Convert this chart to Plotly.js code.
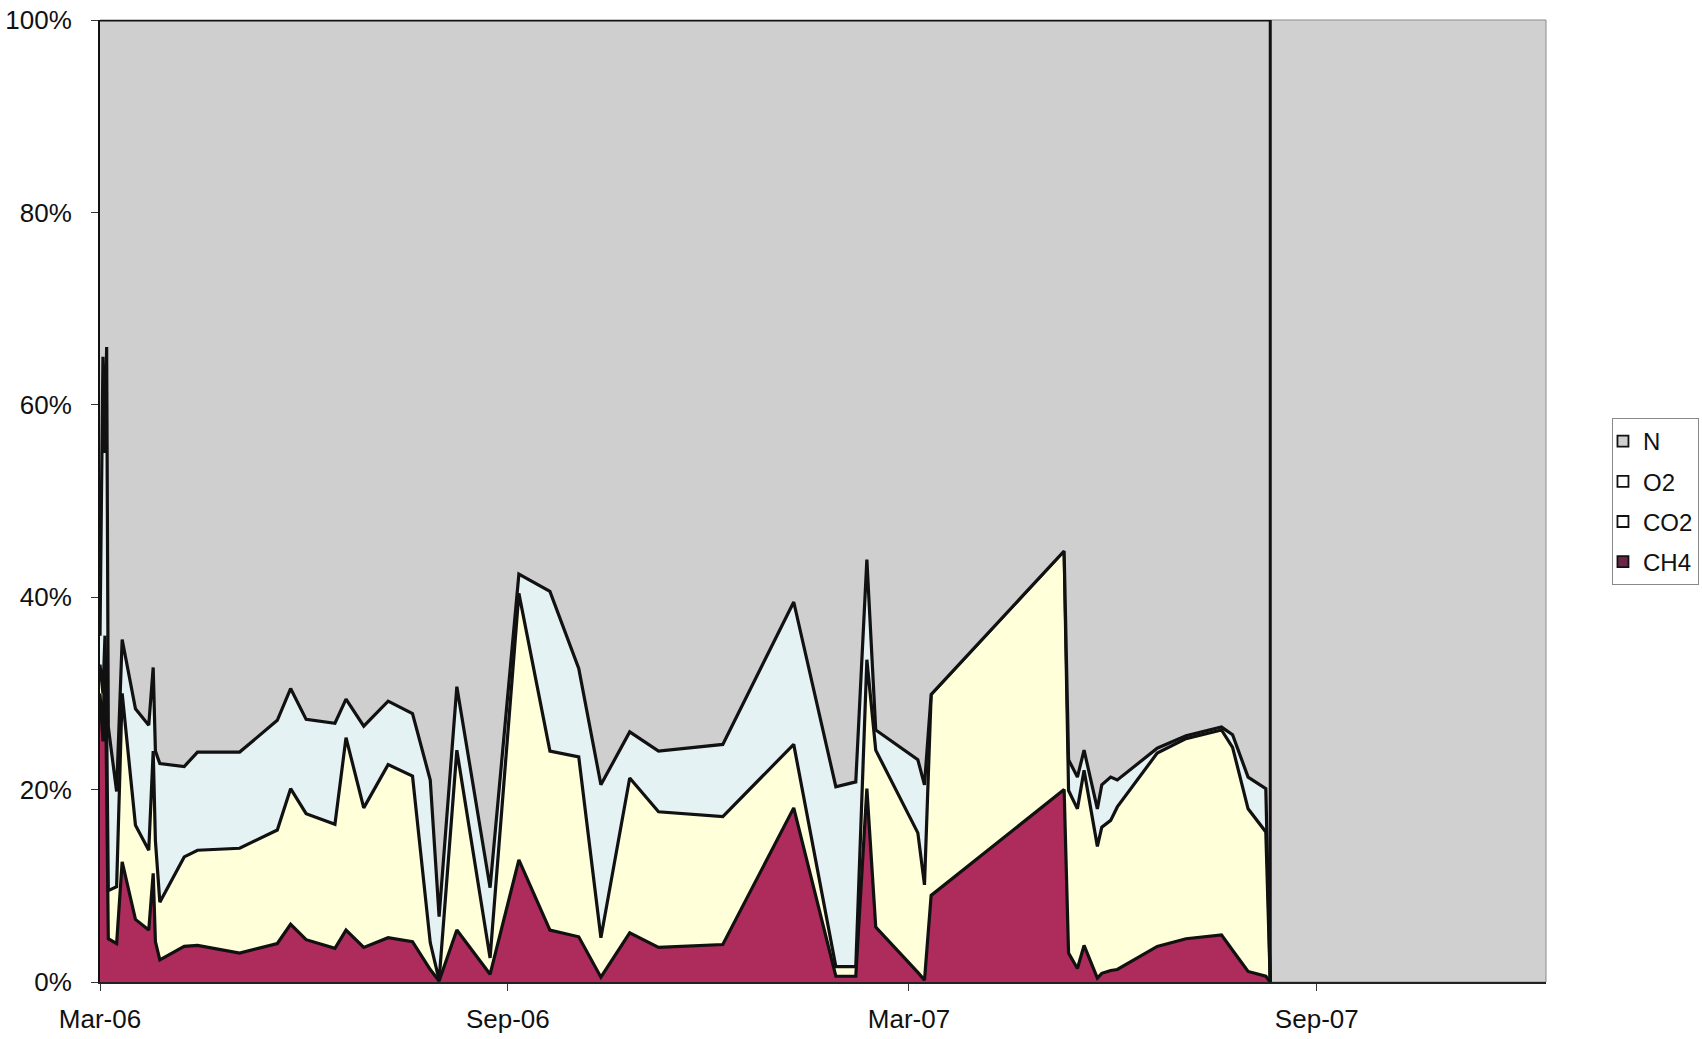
<!DOCTYPE html>
<html>
<head>
<meta charset="utf-8">
<script src="https://cdn.plot.ly/plotly-3.0.1.min.js"></script>
<style>
html,body{margin:0;padding:0;background:#fff;}
#chart{width:1702px;height:1039px;}
</style>
</head>
<body>
<div id="chart"></div>
<script>
// Sampling dates
const dates = ['2006-03-01 00:00','2006-03-02 08:00','2006-03-03 06:00','2006-03-04 00:00','2006-03-04 18:00',
  '2006-03-08 12:00','2006-03-11','2006-03-17','2006-03-23','2006-03-25','2006-03-26','2006-03-28',
  '2006-04-08','2006-04-14','2006-05-03','2006-05-20','2006-05-26','2006-06-02','2006-06-15','2006-06-20',
  '2006-06-28','2006-07-09','2006-07-20','2006-07-28','2006-08-01','2006-08-09','2006-08-24','2006-09-06',
  '2006-09-20','2006-10-03','2006-10-13','2006-10-26','2006-11-08','2006-12-07','2007-01-08','2007-01-27',
  '2007-02-05','2007-02-10','2007-02-14','2007-03-05','2007-03-08','2007-03-11','2007-05-10','2007-05-12',
  '2007-05-16','2007-05-19','2007-05-25','2007-05-27','2007-05-31','2007-06-03','2007-06-21','2007-07-04',
  '2007-07-20','2007-07-25','2007-08-01','2007-08-09','2007-08-11'];

// Gas composition (%)
const ch4 = [30,25,36,20,4.5,4.0,12.5,6.5,5.4,11.3,4.2,2.3,3.7,3.8,3.0,4.0,6.0,4.4,3.5,5.4,3.6,4.6,4.2,1.3,0.1,
  5.4,0.8,12.7,5.4,4.7,0.5,5.1,3.6,3.9,18.1,0.6,0.6,20.1,5.7,1.0,0.2,9.0,20.0,3.0,1.4,3.8,0.4,0.9,1.2,1.3,
  3.7,4.5,4.9,3.3,1.1,0.6,0];
const co2 = [3,5,0,7,5.0,5.9,17.5,9.8,8.3,12.7,10.5,6.0,9.3,9.9,10.9,11.8,14.1,13.1,12.9,20.0,14.5,18.0,17.2,
  2.8,0.1,18.7,1.7,27.7,18.6,18.7,4.1,16.1,14.1,13.3,6.6,1.0,1.0,13.4,18.4,14.5,9.9,20.9,24.8,16.9,16.6,18.2,
  13.7,15.2,15.6,16.9,20.1,20.8,21.3,21.1,16.9,15.0,0];
const o2 = [3,35,19,39,17.0,9.9,5.6,12.1,13.0,8.7,9.3,14.4,9.4,10.2,10.0,11.4,10.4,9.8,10.5,4.0,8.5,6.6,6.5,
  16.9,6.6,6.6,7.3,2.0,16.6,9.2,15.9,4.8,6.3,7.5,14.8,18.7,19.2,10.4,2.1,7.6,10.4,0,0,3.2,3.3,2.1,3.9,4.4,
  4.5,2.8,0.5,0.3,0.3,1.3,3.3,4.5,0];
const n2 = [64,35,45,34,73.5,80.2,64.4,71.6,73.3,67.3,76.0,77.3,77.6,76.1,76.1,72.8,69.5,72.7,73.1,70.6,73.4,
  70.8,72.1,79.0,93.2,69.3,90.2,57.6,59.4,67.4,79.5,74.0,76.0,75.3,60.5,79.7,79.2,56.1,73.8,76.9,79.5,70.1,
  55.2,76.9,78.7,75.9,82.0,79.5,78.7,79.0,75.7,74.4,73.5,74.3,78.7,79.9,100];

const seriesNames = ['CH4','CO2','O2','N'];
const legendOrder = ['N','O2','CO2','CH4'];
const yTickVals = [0,20,40,60,80,100];
const yTickText = ['0%','20%','40%','60%','80%','100%'];
const xRange = ['2006-03-01','2007-12-13 10:00'];

const fills = {CH4:'#AE2C5C', CO2:'#FFFFDA', O2:'#E4F2F4', N:'#CFCFCF'};
const legendFills = {CH4:'#6E2446', CO2:'#FFFFFF', O2:'#FFFFFF', N:'#CFCFCF'};
const values = {CH4:ch4, CO2:co2, O2:o2, N:n2};
const lineStyle = {color:'#111111', width:3.2, shape:'linear'};

const traces = seriesNames.map((nm,i) => {
  const t = {
    type:'scatter', mode:'lines', name:nm, x:dates, y:values[nm],
    stackgroup:'gas', fillcolor:fills[nm], line:lineStyle,
    showlegend:false, hoverinfo:'x+y+name'
  };
  if (i === 0) t.groupnorm = 'percent';
  return t;
});

legendOrder.forEach((nm,i) => {
  traces.push({
    type:'scatter', mode:'markers', name:nm, x:[null], y:[null],
    legendgroup:'g'+i, showlegend:true,
    marker:{symbol:'square', size:11, color:legendFills[nm], line:{color:'#111', width:1.8}}
  });
});

const lastDate = dates[dates.length-1];

const layout = {
  width:1702, height:1039,
  margin:{l:100, r:156, t:20, b:57, autoexpand:false},
  paper_bgcolor:'#ffffff',
  plot_bgcolor:'#D0D0D0',
  font:{family:'Liberation Sans, Arial, sans-serif', color:'#111', size:24},
  showlegend:true,
  legend:{
    xref:'container', yref:'container',
    x:0.9471, xanchor:'left', y:0.5977, yanchor:'top',
    bgcolor:'#ffffff', bordercolor:'#888', borderwidth:1,
    font:{size:24, color:'#111'}, tracegroupgap:6, itemwidth:30,
    indentation:-10,
    traceorder:'grouped'
  },
  xaxis:{
    type:'date', range:xRange, tick0:'2006-03-01', dtick:'M6', tickformat:'%b-%y',
    ticks:'outside', ticklen:7, tickcolor:'#333', tickwidth:1,
    showgrid:false, zeroline:false, showline:true, linecolor:'#222', linewidth:1.5,
    tickfont:{size:26, color:'#111'}, ticklabelstandoff:6, automargin:false
  },
  yaxis:{
    range:[0,100], tickmode:'array', tickvals:yTickVals, ticktext:yTickText,
    ticks:'outside', ticklen:7, tickcolor:'#333', tickwidth:1,
    showgrid:false, zeroline:false, showline:true, linecolor:'#111', linewidth:2,
    tickfont:{size:26, color:'#111'}, ticklabelstandoff:14, automargin:false
  },
  shapes:[
    {type:'rect', xref:'paper', yref:'paper', x0:0, x1:1, y0:0, y1:1,
     line:{color:'#8a8a8a', width:1}, fillcolor:'rgba(0,0,0,0)', layer:'below'},
    {type:'line', xref:'x', yref:'y', x0:lastDate, x1:lastDate, y0:0, y1:100,
     line:{color:'#111111', width:3}, layer:'above'}
  ]
};

Plotly.newPlot('chart', traces, layout, {displayModeBar:false, staticPlot:true});
</script>
</body>
</html>
